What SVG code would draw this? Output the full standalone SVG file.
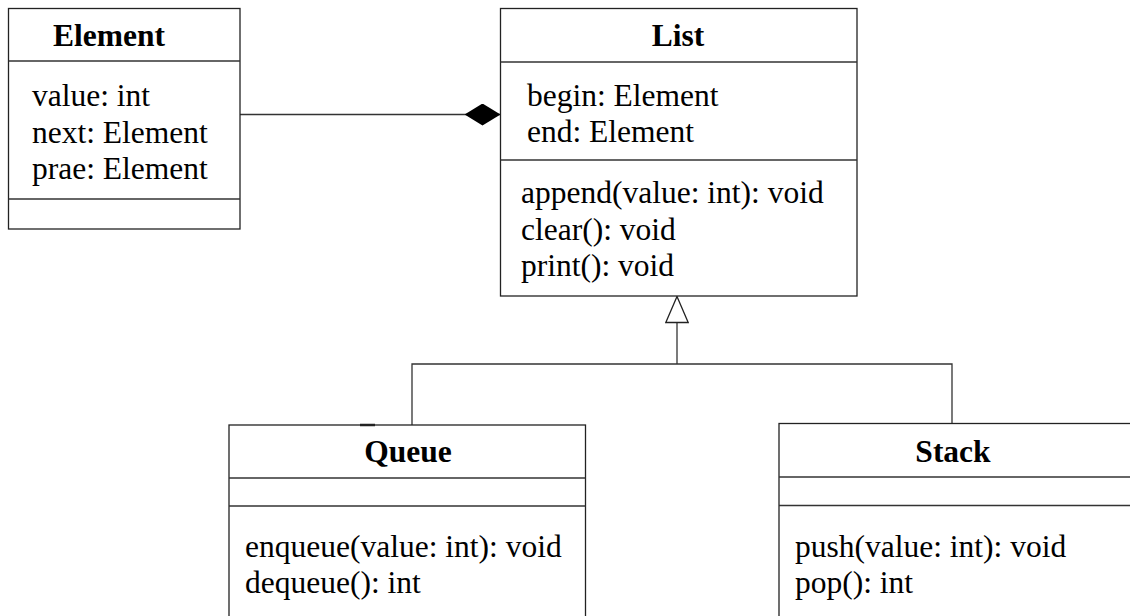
<svg xmlns="http://www.w3.org/2000/svg" width="1130" height="616" viewBox="0 0 1130 616">
  <style>
    .box { fill: #ffffff; stroke: #222; stroke-width: 1.3; }
    .sep { stroke: #333; stroke-width: 1.3; fill: none; }
    .edge { stroke: #333; stroke-width: 1.3; fill: none; }
    .title { font-family: "Liberation Serif", "Times New Roman", serif; font-size: 31.5px; font-weight: bold; text-anchor: middle; fill: #000; }
    .member { font-family: "Liberation Serif", "Times New Roman", serif; font-size: 31.5px; fill: #000; }
  </style>
  <defs>
    <marker id="composition" viewBox="0 0 36 22" refX="36" refY="11" markerWidth="36" markerHeight="22" markerUnits="userSpaceOnUse" orient="auto">
      <path d="M0,11 L18,0 L36,11 L18,22 Z" fill="#000" stroke="none"/>
    </marker>
    <marker id="generalization" viewBox="0 0 28 24" refX="27" refY="12" markerWidth="28" markerHeight="24" markerUnits="userSpaceOnUse" orient="auto">
      <path d="M1,0.8 L27,12 L1,23.2 Z" fill="#fff" stroke="#222" stroke-width="1.3"/>
    </marker>
  </defs>
  <rect width="1130" height="616" fill="#ffffff"/>

  <!-- connectors -->
  <g id="connectors">
    <line class="edge" x1="240" y1="114.5" x2="500.5" y2="114.5" marker-end="url(#composition)"/>
    <polyline class="edge" points="412,425 412,364 952,364 952,423.5"/>
    <line class="edge" x1="677" y1="364" x2="677" y2="296.5" marker-end="url(#generalization)"/>
  </g>

  <!-- Element -->
  <g id="element">
    <rect class="box" x="8.5" y="8.5" width="231.5" height="220.5"/>
    <line class="sep" x1="8.5" y1="61" x2="240" y2="61"/>
    <line class="sep" x1="8.5" y1="199" x2="240" y2="199"/>
    <text class="title" x="109" y="46">Element</text>
    <text class="member" x="32" y="106">value: int</text>
    <text class="member" x="32" y="142.5">next: Element</text>
    <text class="member" x="32" y="179">prae: Element</text>
  </g>

  <!-- List -->
  <g id="list">
    <rect class="box" x="500.5" y="8.5" width="356.5" height="287.5"/>
    <line class="sep" x1="500.5" y1="62" x2="857" y2="62"/>
    <line class="sep" x1="500.5" y1="160" x2="857" y2="160"/>
    <text class="title" x="678" y="46">List</text>
    <text class="member" x="527" y="106">begin: Element</text>
    <text class="member" x="527" y="142">end: Element</text>
    <text class="member" x="521" y="203">append(value: int): void</text>
    <text class="member" x="521" y="240">clear(): void</text>
    <text class="member" x="521" y="276">print(): void</text>
  </g>

  <!-- Queue -->
  <g id="queue">
    <rect class="box" x="229" y="425" width="356.5" height="200"/>
    <line x1="360" y1="425" x2="375" y2="425" stroke="#222" stroke-width="2.5"/>
    <line class="sep" x1="229" y1="478" x2="585.5" y2="478"/>
    <line class="sep" x1="229" y1="506" x2="585.5" y2="506"/>
    <text class="title" x="408" y="462">Queue</text>
    <text class="member" x="245" y="557">enqueue(value: int): void</text>
    <text class="member" x="245" y="593">dequeue(): int</text>
  </g>

  <!-- Stack -->
  <g id="stack">
    <rect class="box" x="779" y="423.5" width="360" height="200"/>
    <line class="sep" x1="779" y1="477" x2="1140" y2="477"/>
    <line class="sep" x1="779" y1="505.5" x2="1140" y2="505.5"/>
    <text class="title" x="953" y="462">Stack</text>
    <text class="member" x="795" y="557">push(value: int): void</text>
    <text class="member" x="795" y="593">pop(): int</text>
  </g>
</svg>
